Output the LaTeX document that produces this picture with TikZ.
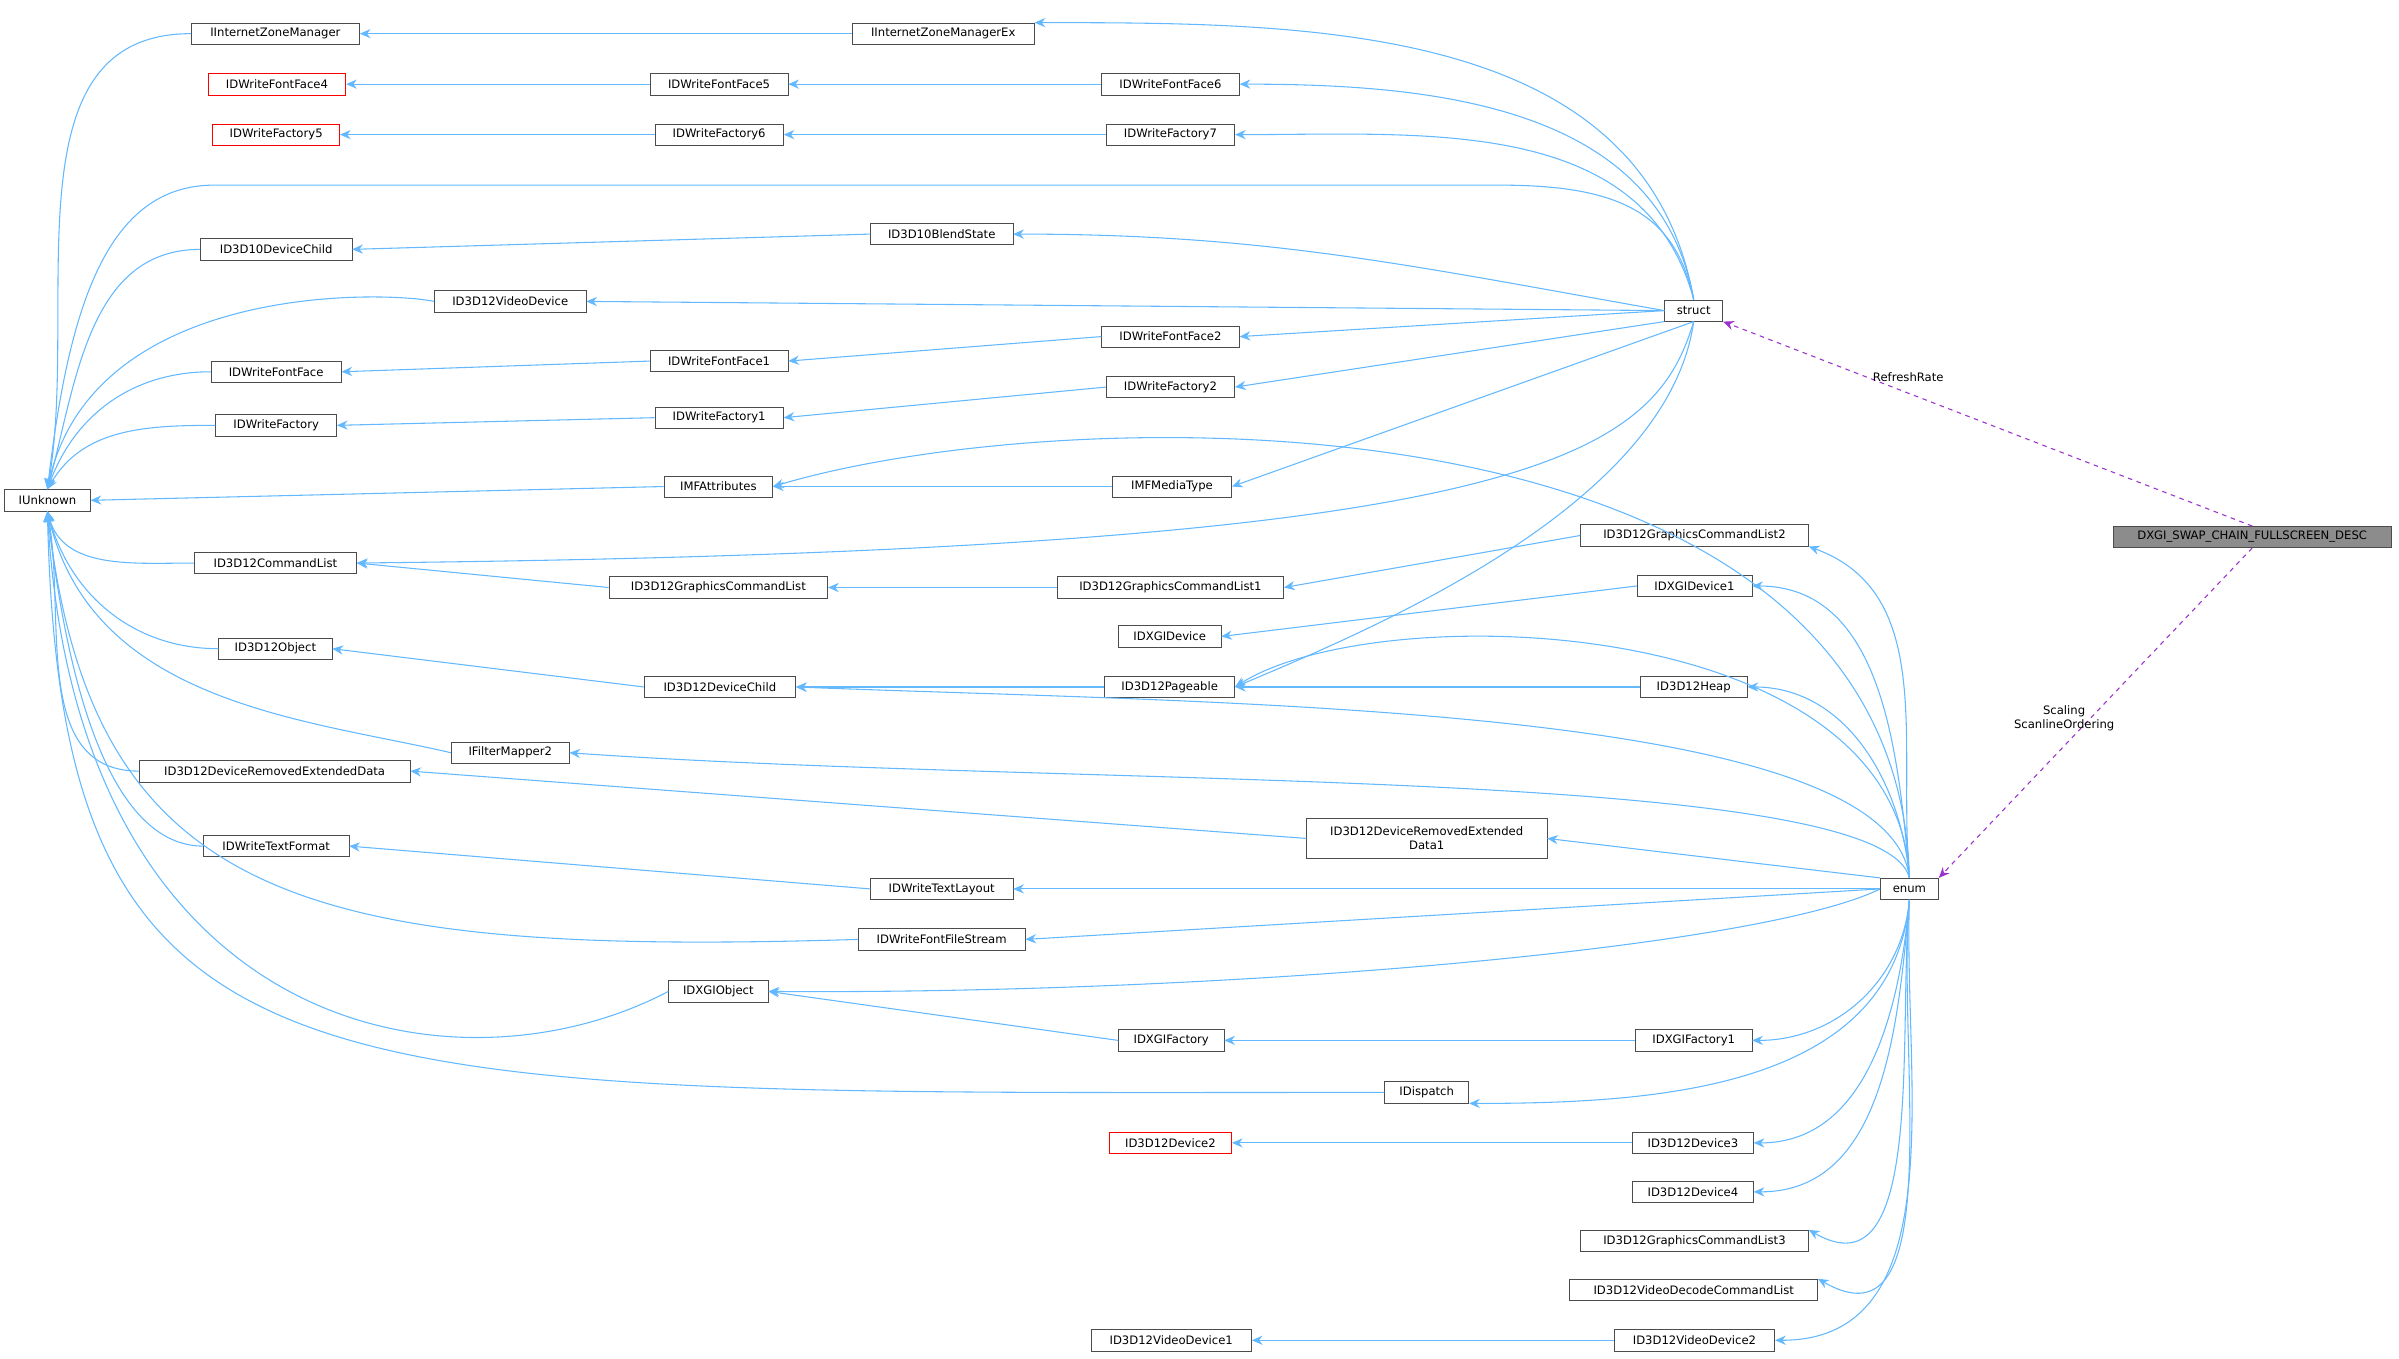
\documentclass[tikz,border=0pt]{standalone}
\usepackage{fontspec}
\setmainfont{DejaVu Sans}
\usetikzlibrary{arrows.meta}
\definecolor{eb}{HTML}{63B8FF}
\definecolor{pu}{HTML}{9A32CD}
\newcommand\bx[6][]{\node[box,#1,minimum width={(#4-#3)*1pt}] (#2) at ({(#3+#4)/2},#5) {#6};}
\begin{document}
\begin{tikzpicture}[x=1pt,y=-1pt,
 box/.style={draw=black!70,fill=white,font=\fontsize{7.6}{9}\selectfont,inner sep=1.5pt,minimum height=14pt,align=center},
 red/.style={draw=red},
 inh/.style={eb,line width=0.7pt,-{Stealth[length=7pt,width=6pt]}},
 use/.style={pu,line width=0.7pt,dashed,-{Stealth[length=7pt,width=6pt]}},
 lbl/.style={black,font=\fontsize{7.6}{9}\selectfont,align=center}]
\useasboundingbox (0,0) rectangle (1568,888);
\bx{IU}{3}{59}{327}{IUnknown}
\bx{IIZM}{125}{235}{22}{IInternetZoneManager}
\bx{IIZMEx}{557}{676}{22}{IInternetZoneManagerEx}
\bx[red]{FF4}{136}{226}{55}{IDWriteFontFace4}
\bx{FF5}{425}{515}{55}{IDWriteFontFace5}
\bx{FF6}{720}{810}{55}{IDWriteFontFace6}
\bx[red]{WF5}{139}{222}{88}{IDWriteFactory5}
\bx{WF6}{428}{512}{88}{IDWriteFactory6}
\bx{WF7}{723}{807}{88}{IDWriteFactory7}
\bx{D10DC}{131}{230}{163}{ID3D10DeviceChild}
\bx{D10BS}{569}{662}{153}{ID3D10BlendState}
\bx{VD}{284}{383}{197}{ID3D12VideoDevice}
\bx{struct}{1088}{1126}{203}{struct}
\bx{FF}{138}{223}{243}{IDWriteFontFace}
\bx{FF1}{425}{515}{236}{IDWriteFontFace1}
\bx{FF2}{720}{810}{220}{IDWriteFontFace2}
\bx{WF}{141}{220}{278}{IDWriteFactory}
\bx{WF1}{428}{512}{273}{IDWriteFactory1}
\bx{WF2}{723}{807}{253}{IDWriteFactory2}
\bx{MFA}{434}{505}{318}{IMFAttributes}
\bx{MFMT}{727}{805}{318}{IMFMediaType}
\bx{CL}{127}{233}{368}{ID3D12CommandList}
\bx{GCL}{398}{541}{384}{ID3D12GraphicsCommandList}
\bx{GCL1}{691}{839}{384}{ID3D12GraphicsCommandList1}
\bx{GCL2}{1033}{1182}{350}{ID3D12GraphicsCommandList2}
\bx{XD1}{1070}{1145}{383}{IDXGIDevice1}
\bx{XD}{731}{798}{416}{IDXGIDevice}
\bx{Obj}{143}{217}{424}{ID3D12Object}
\bx{DC}{421}{520}{449}{ID3D12DeviceChild}
\bx{Pg}{722}{807}{449}{ID3D12Pageable}
\bx{Heap}{1072}{1142}{449}{ID3D12Heap}
\bx{FM2}{295}{372}{492}{IFilterMapper2}
\bx{DRED}{91}{268}{504}{ID3D12DeviceRemovedExtendedData}
\bx[minimum height=26pt]{DRED1}{854}{1011}{548}{ID3D12DeviceRemovedExtended\\Data1}
\bx{TF}{133}{228}{553}{IDWriteTextFormat}
\bx{TL}{569}{662}{581}{IDWriteTextLayout}
\bx{enum}{1229}{1267}{581}{enum}
\bx{FFS}{561}{670}{614}{IDWriteFontFileStream}
\bx{XO}{437}{502}{648}{IDXGIObject}
\bx{XF}{731}{800}{680}{IDXGIFactory}
\bx{XF1}{1069}{1145}{680}{IDXGIFactory1}
\bx{Disp}{905}{960}{714}{IDispatch}
\bx[red]{Dev2}{725}{805}{747}{ID3D12Device2}
\bx{Dev3}{1067}{1146}{747}{ID3D12Device3}
\bx{Dev4}{1067}{1146}{779}{ID3D12Device4}
\bx{GCL3}{1033}{1182}{811}{ID3D12GraphicsCommandList3}
\bx{VDCL}{1026}{1188}{843}{ID3D12VideoDecodeCommandList}
\bx{VD1}{713}{818}{876}{ID3D12VideoDevice1}
\bx{VD2}{1055}{1160}{876}{ID3D12VideoDevice2}
\bx[fill=black!45]{DX}{1381}{1563}{351}{DXGI\_SWAP\_CHAIN\_FULLSCREEN\_DESC}
% IUnknown derived (above)
\draw[inh] (IIZM.west) to[out=180,in=80] (IU.north);
\draw[inh] (struct.north) .. controls (1095,140) and (1060,121) .. (980,121) -- (140,121) .. controls (70,121) and (45,200) .. (IU.north);
\draw[inh] (D10DC.west) to[out=180,in=75] (IU.north);
\draw[inh] (VD.west) .. controls (250,190) and (60,185) .. (IU.north);
\draw[inh] (FF.west) to[out=180,in=70] (IU.north);
\draw[inh] (WF.west) to[out=180,in=60] (IU.north);
\draw[inh] (MFA.west) -- (IU.east);
% IUnknown derived (below)
\draw[inh] (CL.west) to[out=180,in=-75] (IU.south);
\draw[inh] (Obj.west) to[out=180,in=-75] (IU.south);
\draw[inh] (FM2.west) .. controls (200,470) and (60,460) .. (IU.south);
\draw[inh] (DRED.west) to[out=180,in=-80] (IU.south);
\draw[inh] (TF.west) .. controls (90,553) and (50,500) .. (IU.south);
\draw[inh] (FFS.west) .. controls (200,625) and (60,590) .. (IU.south);
\draw[inh] (XO.west) .. controls (300,720) and (50,680) .. (IU.south);
\draw[inh] (Disp.west) .. controls (200,714) and (40,730) .. (IU.south);
% chains
\draw[inh] (IIZMEx) -- (IIZM);
\draw[inh] (struct.north) to[out=100,in=0] (IIZMEx.north east);
\draw[inh] (FF5) -- (FF4);
\draw[inh] (FF6) -- (FF5);
\draw[inh] (struct.north) to[out=100,in=0] (FF6.east);
\draw[inh] (WF6) -- (WF5);
\draw[inh] (WF7) -- (WF6);
\draw[inh] (struct.north) to[out=105,in=0] (WF7.east);
\draw[inh] (D10BS.west) -- (D10DC.east);
\draw[inh] (struct.west) to[out=170,in=0] (D10BS.east);
\draw[inh] (struct.west) -- (VD.east);
\draw[inh] (FF1.west) -- (FF.east);
\draw[inh] (FF2.west) -- (FF1.east);
\draw[inh] (struct.west) -- (FF2.east);
\draw[inh] (WF1.west) -- (WF.east);
\draw[inh] (WF2.west) -- (WF1.east);
\draw[inh] (struct.south west) -- (WF2.east);
\draw[inh] (MFMT) -- (MFA);
\draw[inh] (struct.south) -- (MFMT.east);
\draw[inh] (enum.north) .. controls (1240,250) and (700,260) .. (MFA.east);
\draw[inh] (struct.south) .. controls (1080,300) and (1000,360) .. (CL.east);
\draw[inh] (GCL.west) -- (CL.east);
\draw[inh] (GCL1) -- (GCL);
\draw[inh] (GCL2.west) -- (GCL1.east);
\draw[inh] (enum.north) to[out=95,in=-20] (GCL2.south east);
\draw[inh] (XD1.west) -- (XD.east);
\draw[inh] (enum.north) to[out=95,in=0] (XD1.east);
\draw[inh] (DC.west) -- (Obj.east);
\draw[inh] (Pg) -- (DC);
\draw[inh] (Heap) -- (Pg);
\draw[inh] (enum.north) to[out=95,in=0] (Heap.east);
\draw[inh] (struct.south) .. controls (1090,330) and (900,410) .. (Pg.east);
\draw[inh] (enum.north) .. controls (1240,400) and (900,390) .. (Pg.east);
\draw[inh] (enum.north) .. controls (1235,460) and (800,460) .. (DC.east);
\draw[inh] (enum.north) .. controls (1230,500) and (700,515) .. (FM2.east);
\draw[inh] (DRED1.west) -- (DRED.east);
\draw[inh] (enum.north west) -- (DRED1.east);
\draw[inh] (TL.west) -- (TF.east);
\draw[inh] (enum) -- (TL);
\draw[inh] (enum.west) -- (FFS.east);
\draw[inh] (enum.west) .. controls (1150,620) and (800,650) .. (XO.east);
\draw[inh] (XF.west) -- (XO.east);
\draw[inh] (XF1) -- (XF);
\draw[inh] (enum.south) to[out=-95,in=0] (XF1.east);
\draw[inh] (enum.south) to[out=-95,in=0] (Disp.south east);
\draw[inh] (Dev3) -- (Dev2);
\draw[inh] (enum.south) to[out=-95,in=0] (Dev3.east);
\draw[inh] (enum.south) to[out=-95,in=0] (Dev4.east);
\draw[inh] (enum.south) to[out=-95,in=-30] (GCL3.north east);
\draw[inh] (enum.south) to[out=-95,in=-30] (VDCL.north east);
\draw[inh] (VD2) -- (VD1);
\draw[inh] (enum.south) to[out=-92,in=0] (VD2.east);
% uses
\draw[use] (DX.north) -- node[lbl,pos=0.65,above=4pt]{RefreshRate} (struct.south east);
\draw[use] (DX.south) -- node[lbl,pos=0.6,above=6pt]{Scaling\\ScanlineOrdering} (enum.north east);
\end{tikzpicture}
\end{document}
